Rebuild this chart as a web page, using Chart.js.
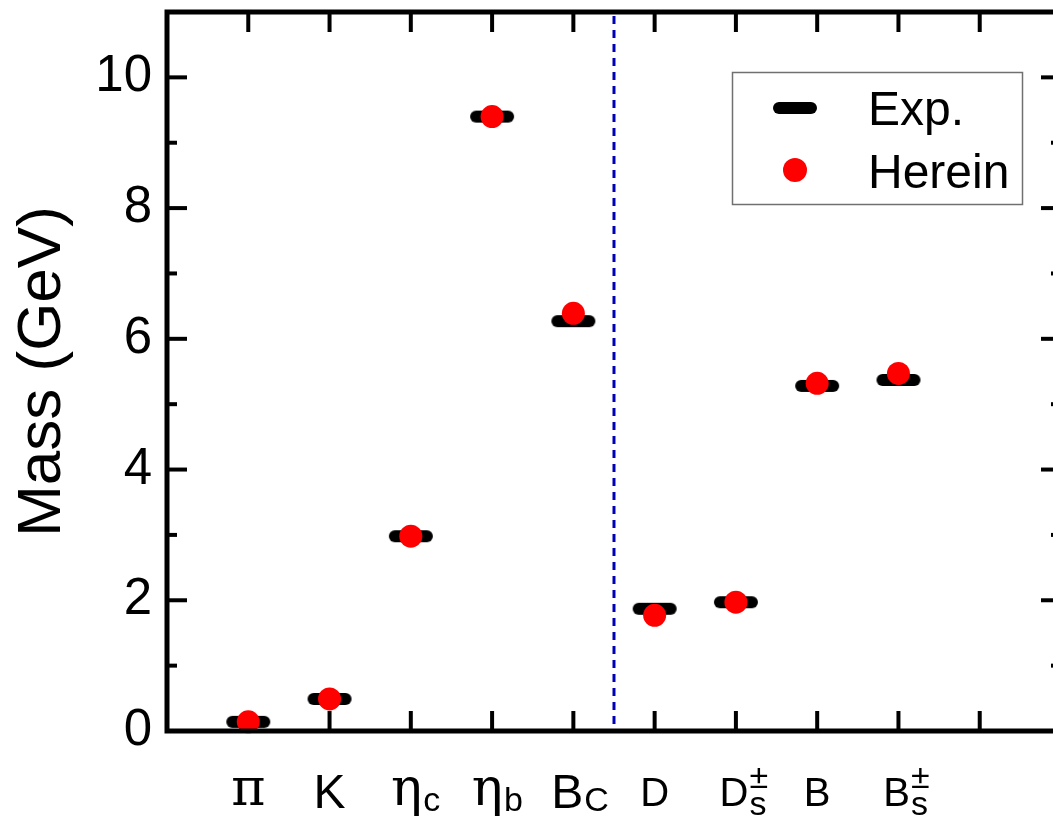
<!DOCTYPE html>
<html><head><meta charset="utf-8">
<script src="https://cdn.jsdelivr.net/npm/chart.js@4.4.1/dist/chart.umd.min.js"></script>
<style>
html,body{margin:0;padding:0;overflow:hidden;background:#fff;width:1053px;height:817px}
#wrap{width:1075px;height:817px}
</style>
</head><body><div id="wrap"><canvas id="c" width="1075" height="817"></canvas></div>
<script>
// ---- data ----
const mesonBase = ['π','K','η','η','B','D','D','B','B'];
const mesonSub  = ['', '', 'c','b','C','', 's','', 's'];
const mesonSup  = ['', '', '', '', '', '', '±','', '±'];
const expMass    = [0.14, 0.49, 2.98, 9.40, 6.27, 1.87, 1.97, 5.28, 5.37];
const hereinMass = [0.14, 0.49, 2.98, 9.40, 6.39, 1.77, 1.97, 5.32, 5.47];
const yTickLabels = [0, 2, 4, 6, 8, 10];
const dividerAt = 5.5;
const yAxisTitle = 'Mass (GeV)';

const SANS = '"Liberation Sans", Arial, sans-serif';
const SERIF = '"DejaVu Serif", "Liberation Serif", serif';

const capsule = (() => {
  const c = document.createElement('canvas'); c.width = 46; c.height = 14;
  const g = c.getContext('2d');
  g.strokeStyle = '#000'; g.lineWidth = 12; g.lineCap = 'round';
  g.beginPath(); g.moveTo(7, 7); g.lineTo(39, 7); g.stroke();
  return c;
})();

function seg(ctx, x1, y1, x2, y2) { ctx.beginPath(); ctx.moveTo(x1, y1); ctx.lineTo(x2, y2); ctx.stroke(); }

const framePlugin = {
  id: 'frame',
  beforeDatasetsDraw(chart) {
    const { ctx, chartArea: a, scales: { x, y } } = chart;
    ctx.save();
    ctx.strokeStyle = '#0000b4'; ctx.lineWidth = 3; ctx.setLineDash([8, 6]);
    const dx = x.getPixelForValue(dividerAt);
    seg(ctx, dx, a.top + 4, dx, a.bottom);
    ctx.setLineDash([]);
    ctx.strokeStyle = '#000'; ctx.lineWidth = 4;
    for (let v = 1; v <= mesonBase.length + 1; v++) {
      const px = x.getPixelForValue(v);
      seg(ctx, px, a.bottom, px, a.bottom - 20);
      seg(ctx, px, a.top, px, a.top + 20);
    }
    for (let v = y.min; v <= y.max; v++) {
      const len = v % 2 === 0 ? 20 : 10;
      const py = y.getPixelForValue(v);
      seg(ctx, a.left, py, a.left + len, py);
      seg(ctx, a.right, py, a.right - len, py);
    }
    ctx.restore();
  },
  afterDatasetsDraw(chart) {
    const { ctx, chartArea: a, scales: { x } } = chart;
    ctx.save();
    // frame
    ctx.strokeStyle = '#000'; ctx.lineWidth = 5;
    ctx.strokeRect(a.left, a.top, a.right - a.left, a.bottom - a.top);
    // legend
    const lx = 732, ly = 72, lw = 290, lh = 132;
    ctx.fillStyle = '#fff'; ctx.fillRect(lx, ly, lw, lh);
    ctx.strokeStyle = '#707070'; ctx.lineWidth = 1.5; ctx.strokeRect(lx + 0.5, ly + 0.5, lw, lh);
    const exp = chart.data.datasets[1], her = chart.data.datasets[0];
    ctx.drawImage(capsule, 795 - 23, 108 - 7);
    ctx.fillStyle = '#ff0000'; ctx.beginPath(); ctx.arc(795, 170, 12, 0, Math.PI * 2); ctx.fill();
    ctx.fillStyle = '#000'; ctx.font = '48px ' + SANS; ctx.textAlign = 'left'; ctx.textBaseline = 'alphabetic';
    ctx.fillText(exp.label, 868, 125);
    ctx.fillText(her.label, 868, 188);
    // x category labels
    for (let i = 0; i < mesonBase.length; i++) {
      const cx = x.getPixelForValue(i + 1);
      const right = (i + 1) > dividerAt;
      const greek = /[\u0370-\u03ff]/.test(mesonBase[i]);
      const fs = greek ? 52 : (right ? 40 : 48);
      const base = greek ? 805 : (right ? 806 : 808);
      const bfont = fs + 'px ' + (greek ? SERIF : SANS);
      ctx.font = bfont;
      const bw = ctx.measureText(mesonBase[i]).width;
      const ss = 34;
      ctx.font = ss + 'px ' + SANS;
      const sw = Math.max(mesonSub[i] ? ctx.measureText(mesonSub[i]).width : 0,
                          mesonSup[i] ? ctx.measureText(mesonSup[i]).width : 0);
      const x0 = cx - bw / 2 - sw * (mesonSup[i] ? 0.1 : 0.25);
      ctx.fillStyle = '#000';
      ctx.font = bfont;
      ctx.fillText(mesonBase[i], x0, base);
      ctx.font = ss + 'px ' + SANS;
      if (mesonSub[i]) ctx.fillText(mesonSub[i], x0 + bw + 1, mesonSup[i] ? 815 : 811);
      if (mesonSup[i]) ctx.fillText(mesonSup[i], x0 + bw + 1, 788);
    }
    ctx.restore();
  }
};

new Chart(document.getElementById('c'), {
  type: 'scatter',
  data: {
    datasets: [
      { label: 'Herein', data: hereinMass.map((v, i) => ({ x: i + 1, y: v })),
        pointStyle: 'circle', pointRadius: 11.5, pointHoverRadius: 11.5,
        backgroundColor: '#ff0000', borderWidth: 0, order: 0, clip: false },
      { label: 'Exp.', data: expMass.map((v, i) => ({ x: i + 1, y: v })),
        pointStyle: capsule, pointRadius: 22, order: 1, clip: false }
    ]
  },
  options: {
    responsive: false, animation: false, devicePixelRatio: 1,
    layout: { autoPadding: false, padding: { left: 0, top: 12, right: 14, bottom: 0 } },
    plugins: { legend: { display: false }, tooltip: { enabled: false } },
    scales: {
      x: { type: 'linear', min: 0, max: mesonBase.length + 2,
           grid: { display: false, drawTicks: false }, border: { display: false },
           ticks: { display: false },
           afterFit(s) { s.height = 86; s.paddingLeft = 0; s.paddingRight = 0; } },
      y: { type: 'linear', min: 0, max: 11,
           grid: { display: false, drawTicks: false }, border: { display: false },
           afterBuildTicks(s) { s.ticks = yTickLabels.map(v => ({ value: v })); },
           ticks: { padding: 15, color: '#000', font: { family: SANS, size: 51 },
                    callback: v => String(v) },
           title: { display: true, text: yAxisTitle, color: '#000',
                    font: { family: SANS, size: 62 }, padding: { top: 6, bottom: 0 } },
           afterFit(s) { s.width = 167; s.paddingTop = 0; s.paddingBottom = 0; } }
    }
  },
  plugins: [framePlugin]
});
</script>
</body></html>
